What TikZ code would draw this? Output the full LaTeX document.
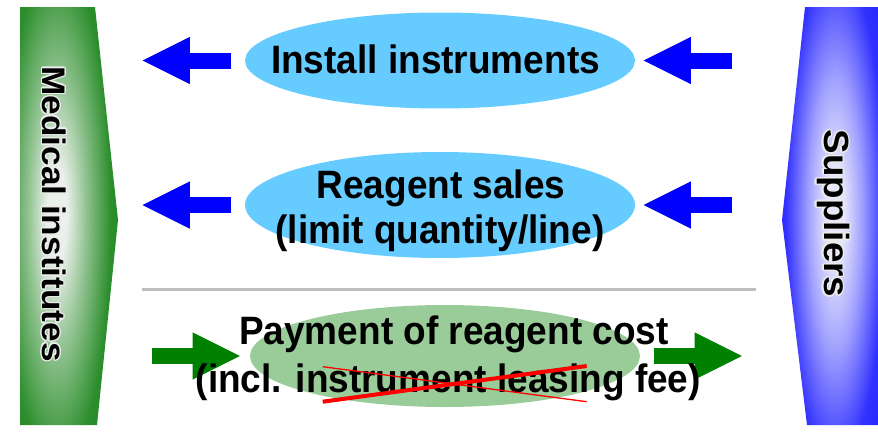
\documentclass[tikz,border=0pt]{standalone}
\usepackage{fontspec}
\setmainfont{Liberation Sans}
\usepackage[copies]{contour}
\usetikzlibrary{arrows.meta,positioning,shapes.geometric,calc}
\definecolor{SkyFill}{HTML}{66CCFF}
\definecolor{SageFill}{HTML}{99CC99}
\definecolor{ArrBlue}{HTML}{0000FF}
\definecolor{ArrGreen}{HTML}{008000}
\definecolor{InstDark}{HTML}{1A781A}
\definecolor{InstMid}{HTML}{2C8E2C}
\definecolor{InstSoft}{HTML}{90C290}
\definecolor{InstLight}{HTML}{EAF0EA}
\definecolor{SuppDark}{HTML}{1818F8}
\definecolor{SuppMid}{HTML}{3232FF}
\definecolor{SuppSoft}{HTML}{A0A0FF}
\definecolor{SuppLight}{HTML}{E6E6FC}
\pgfdeclareradialshading{instglow}{\pgfpoint{0bp}{0bp}}{color(0bp)=(InstLight); color(4bp)=(InstLight); color(12bp)=(InstSoft); color(22bp)=(InstMid); color(34bp)=(InstDark); color(50bp)=(InstDark)}
\pgfdeclareradialshading{suppglow}{\pgfpoint{0bp}{0bp}}{color(0bp)=(SuppLight); color(4bp)=(SuppLight); color(12bp)=(SuppSoft); color(22bp)=(SuppMid); color(34bp)=(SuppDark); color(50bp)=(SuppDark)}
\contourlength{1.2pt}

\begin{document}
\begin{tikzpicture}[x=1pt, y=-1pt,
    bubble/.style={ellipse, minimum width=390pt, inner sep=0pt},
    lbl/.style={font=\fontsize{37}{44}\selectfont\bfseries, anchor=base, inner sep=0pt, yscale=1.07},
    sidelbl/.style={font=\bfseries, rotate=-90, inner sep=0pt},
    bluearr/.style={draw=ArrBlue, line width=16pt, -{Triangle[length=47.3pt, width=47.3pt, line width=0pt]}},
    greenarr/.style={draw=ArrGreen, line width=16pt, -{Triangle[length=47.3pt, width=47.3pt, line width=0pt]}},
    divider/.style={draw=gray!50, line width=3pt},
    strike/.style={draw=red}]
    \useasboundingbox (0,0) rectangle (878,431);

    % Side bars
    \begin{scope}
        \clip (20,7) -- (95,7) -- (118,220) -- (97,425) -- (20,425) -- cycle;
        \shade[shading=instglow] (-4,-70) rectangle (118,498);
    \end{scope}
    \begin{scope}
        \clip (805,7) -- (878,7) -- (878,425) -- (807,425) -- (782,220) -- cycle;
        \shade[shading=suppglow] (779,-70) rectangle (891,498);
    \end{scope}
    \node [sidelbl, font=\fontsize{32.6}{36}\selectfont\bfseries, xscale=1.08] (medical) at (53.5,214) {\contour{white!85!gray}{Medical institutes}};
    \node [sidelbl, font=\fontsize{35}{40}\selectfont\bfseries, xscale=1.05] (suppliers) at (832.5,213.5) {\contour{white!85!gray}{Suppliers}};

    % Ellipses
    \node [bubble, fill=SkyFill, minimum height=96pt] (install) at (440,60.5) {};
    \node [bubble, fill=SkyFill, minimum height=106pt] (reagent) at (440,205) {};
    \node [bubble, fill=SageFill, minimum height=102pt] (payment) at (445,356) {};

    % Arrows
    \foreach \n in {install,reagent} {
        \draw [bluearr] ([xshift=-14.3pt]\n.west) -- ([xshift=-102.3pt]\n.west);
        \draw [bluearr] ([xshift=96.7pt]\n.east) -- ([xshift=8.3pt]\n.east);
    }
    \draw [greenarr] ([xshift=-98.3pt]payment.west) -- ([xshift=-10pt]payment.west);
    \draw [greenarr] ([xshift=13.3pt]payment.east) -- ([xshift=101.7pt]payment.east);

    \draw [divider] (142,289.5) -- (756,289.5);

    % Texts
    \node [lbl] (installtxt) at (435.5,73.3) {Install instruments};
    \node [lbl] (reagenttxt) at (441,198) {Reagent sales};
    \node [lbl] (reagentsub) at (440,243) {(limit quantity/line)};
    \node [lbl] (paytxt) at (454,344) {Payment of reagent cost};
    \node [lbl] (paysub) at (448.3,392) {(incl. instrument leasing fee)};

    % Crossed-out words
    \draw [strike, line width=4pt] (322.7,401.7) -- (586.7,366);
    \draw [strike, line width=1.3pt] (322.7,366.7) -- (586.7,401.7);
\end{tikzpicture}
\end{document}
